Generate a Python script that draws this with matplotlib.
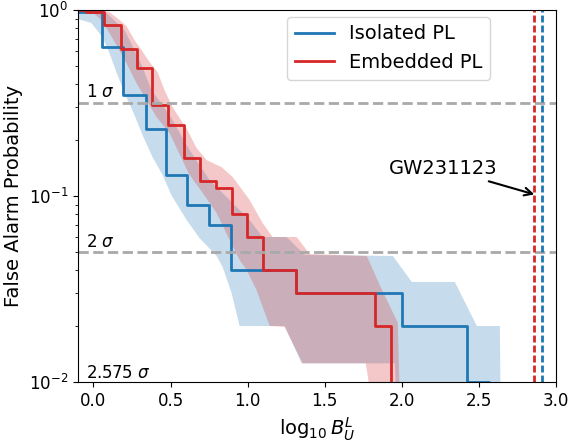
import matplotlib
matplotlib.use("Agg")
import matplotlib.pyplot as plt
import numpy as np

# ---- data ----
# step curves (steps-post): value y[i] holds from x[i] to x[i+1]
iso_x = [-0.10, 0.058, 0.190, 0.338, 0.472, 0.610, 0.749, 0.894, 1.312, 2.000, 2.420, 2.565]
iso_y = [0.97, 0.63, 0.35, 0.23, 0.13, 0.09, 0.07, 0.04, 0.03, 0.02, 0.01, 1e-4]

emb_x = [-0.10, -0.045, 0.071, 0.180, 0.281, 0.381, 0.482, 0.586, 0.688, 0.792, 0.898,
         0.998, 1.099, 1.312, 1.829, 1.927]
emb_y = [1.0, 0.97, 0.83, 0.62, 0.49, 0.31, 0.24, 0.16, 0.12, 0.11, 0.08,
         0.06, 0.04, 0.03, 0.02, 1e-4]

# uncertainty bands
iso_up_x = [-0.104, 0.071, 0.201, 0.299, 0.377, 0.494, 0.623, 0.753, 0.883, 1.013, 1.097,
            1.253, 1.370, 1.942, 2.065, 2.344, 2.487, 2.636, 2.643]
iso_up_y = [1.0, 0.988, 0.781, 0.538, 0.371, 0.273, 0.177, 0.122, 0.0952, 0.0743, 0.0602,
            0.0602, 0.0482, 0.0476, 0.0345, 0.0345, 0.020, 0.020, 0.005]
iso_lo_x = [-0.104, -0.013, 0.058, 0.104, 0.156, 0.214, 0.266, 0.318, 0.383, 0.448, 0.506,
            0.604, 0.688, 0.799, 0.838, 0.896, 0.948, 1.240, 1.351, 1.955, 1.974]
iso_lo_y = [0.895, 0.851, 0.716, 0.587, 0.447, 0.340, 0.273, 0.213, 0.162, 0.130, 0.101,
            0.0743, 0.0594, 0.0476, 0.0415, 0.0301, 0.020, 0.020, 0.0126, 0.0126, 0.005]

emb_up_x = [-0.104, 0.039, 0.104, 0.169, 0.214, 0.266, 0.312, 0.364, 0.416, 0.461, 0.513,
            0.558, 0.610, 0.669, 0.734, 0.831, 0.903, 1.013, 1.097, 1.162, 1.318, 1.403,
            1.773, 1.857, 1.974, 1.994]
emb_up_y = [1.0, 1.0, 0.975, 0.884, 0.820, 0.690, 0.609, 0.525, 0.464, 0.371, 0.301,
            0.263, 0.226, 0.181, 0.156, 0.143, 0.1265, 0.0952, 0.0716, 0.0602, 0.0602, 0.0488,
            0.0476, 0.0332, 0.0208, 0.005]
emb_lo_x = [-0.058, 0.006, 0.052, 0.104, 0.156, 0.214, 0.279, 0.344, 0.409, 0.494, 0.545,
            0.623, 0.708, 0.799, 0.883, 0.948, 0.994, 1.058, 1.143, 1.240, 1.357, 1.766, 1.844]
emb_lo_y = [1.0, 0.952, 0.884, 0.752, 0.633, 0.519, 0.405, 0.328, 0.266, 0.218, 0.177,
            0.130, 0.104, 0.0810, 0.0580, 0.0453, 0.040, 0.0312, 0.020, 0.0198, 0.0126, 0.0126, 0.005]

sigma_levels = [0.3173, 0.05]
sigma_labels = ["1 $\\sigma$", "2 $\\sigma$", "2.575 $\\sigma$"]
sigma_label_y = [0.340, 0.0534, 0.0105]

event_name = "GW231123"
event_emb = 2.859
event_iso = 2.911

labels = ["Isolated PL", "Embedded PL"]
blue = "#1f77b4"
red = "#d62728"

# ---- figure ----
fig = plt.figure(figsize=(5.70, 4.43), dpi=100)
ax = fig.add_axes([78/570, 1-382/443, (556-78)/570, (382-10)/443])

ax.fill(iso_up_x + iso_lo_x[::-1], iso_up_y + iso_lo_y[::-1],
        color=blue, alpha=0.25, lw=0)
ax.fill(emb_up_x + emb_lo_x[::-1], emb_up_y + emb_lo_y[::-1],
        color=red, alpha=0.25, lw=0)

ax.plot(iso_x, iso_y, drawstyle="steps-post", color=blue, lw=2, label=labels[0])
ax.plot(emb_x, emb_y, drawstyle="steps-post", color=red, lw=2, label=labels[1])

for lev in sigma_levels:
    ax.axhline(lev, color="darkgray", ls="--", lw=2)
for lab, yy in zip(sigma_labels, sigma_label_y):
    ax.text(-0.05, yy, lab, fontsize=12, va="baseline", ha="left")

ax.axvline(event_emb, color=red, lw=2, ls=(0, (2.5, 1.1)))
ax.axvline(event_iso, color=blue, lw=2, ls=(0, (2.5, 1.1)))

ax.annotate(event_name, xy=(2.877, 0.101), xytext=(2.27, 0.141),
            ha="center", va="center", fontsize=14,
            arrowprops=dict(arrowstyle="->", color="black", lw=1.5))

ax.set_yscale("log")
ax.set_ylim(1e-2, 1)
ax.set_xlim(-0.1, 3.0)
ax.set_xticks([0.0, 0.5, 1.0, 1.5, 2.0, 2.5, 3.0])
ax.tick_params(labelsize=12)
ax.set_xlabel("$\\log_{10} B_U^L$", fontsize=14)
ax.set_ylabel("False Alarm Probability", fontsize=14)

ax.legend(loc="upper left", bbox_to_anchor=(0.437, 0.982), borderaxespad=0,
          fontsize=14)

fig.savefig("out.png", dpi=100)
